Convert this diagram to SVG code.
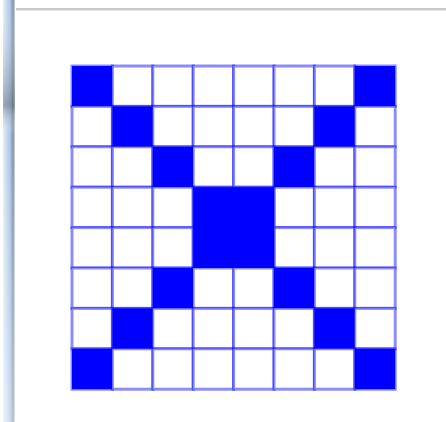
<svg xmlns="http://www.w3.org/2000/svg" width="446" height="422" viewBox="0 0 446 422">
<defs>
<linearGradient id="bar" x1="0" y1="0" x2="1" y2="0">
<stop offset="0" stop-color="#e4eef8"/>
<stop offset="0.6" stop-color="#a9c6e6"/>
<stop offset="0.85" stop-color="#7f8fa3"/>
<stop offset="1" stop-color="#d8dde3"/>
</linearGradient>
<linearGradient id="barv" x1="0" y1="0" x2="0" y2="1">
<stop offset="0" stop-color="#ffffff" stop-opacity="0"/>
<stop offset="0.25" stop-color="#5a6470" stop-opacity="0.5"/>
<stop offset="0.32" stop-color="#ffffff" stop-opacity="0"/>
<stop offset="1" stop-color="#ffffff" stop-opacity="0.4"/>
</linearGradient>
</defs>
<style>
.c{fill:#ffffff;stroke:#0000ff;stroke-opacity:0.45;stroke-width:3}
.f{fill:#0000ff;stroke:#0000ff;stroke-opacity:0.45;stroke-width:3}
</style>
<rect width="446" height="422" fill="#ffffff"/>
<rect x="3" y="0" width="12" height="422" fill="url(#bar)"/>
<rect x="3" y="0" width="12" height="422" fill="url(#barv)"/>
<rect x="16" y="8" width="430" height="2" fill="#c8c8c8"/>
<rect x="16" y="10" width="430" height="1" fill="#e6e6e6"/>
<g id="grid">
<g id="row0">
<rect class="f" x="72" y="66" width="40.4" height="40.4"/>
<rect class="c" x="112.4" y="66" width="40.4" height="40.4"/>
<rect class="c" x="152.8" y="66" width="40.4" height="40.4"/>
<rect class="c" x="193.2" y="66" width="40.4" height="40.4"/>
<rect class="c" x="233.6" y="66" width="40.4" height="40.4"/>
<rect class="c" x="274" y="66" width="40.4" height="40.4"/>
<rect class="c" x="314.4" y="66" width="40.4" height="40.4"/>
<rect class="f" x="354.8" y="66" width="40.4" height="40.4"/>
</g>
<g id="row1">
<rect class="c" x="72" y="106.4" width="40.4" height="40.4"/>
<rect class="f" x="112.4" y="106.4" width="40.4" height="40.4"/>
<rect class="c" x="152.8" y="106.4" width="40.4" height="40.4"/>
<rect class="c" x="193.2" y="106.4" width="40.4" height="40.4"/>
<rect class="c" x="233.6" y="106.4" width="40.4" height="40.4"/>
<rect class="c" x="274" y="106.4" width="40.4" height="40.4"/>
<rect class="f" x="314.4" y="106.4" width="40.4" height="40.4"/>
<rect class="c" x="354.8" y="106.4" width="40.4" height="40.4"/>
</g>
<g id="row2">
<rect class="c" x="72" y="146.8" width="40.4" height="40.4"/>
<rect class="c" x="112.4" y="146.8" width="40.4" height="40.4"/>
<rect class="f" x="152.8" y="146.8" width="40.4" height="40.4"/>
<rect class="c" x="193.2" y="146.8" width="40.4" height="40.4"/>
<rect class="c" x="233.6" y="146.8" width="40.4" height="40.4"/>
<rect class="f" x="274" y="146.8" width="40.4" height="40.4"/>
<rect class="c" x="314.4" y="146.8" width="40.4" height="40.4"/>
<rect class="c" x="354.8" y="146.8" width="40.4" height="40.4"/>
</g>
<g id="row3">
<rect class="c" x="72" y="187.2" width="40.4" height="40.4"/>
<rect class="c" x="112.4" y="187.2" width="40.4" height="40.4"/>
<rect class="c" x="152.8" y="187.2" width="40.4" height="40.4"/>
<rect class="c" x="274" y="187.2" width="40.4" height="40.4"/>
<rect class="c" x="314.4" y="187.2" width="40.4" height="40.4"/>
<rect class="c" x="354.8" y="187.2" width="40.4" height="40.4"/>
</g>
<g id="row4">
<rect class="c" x="72" y="227.6" width="40.4" height="40.4"/>
<rect class="c" x="112.4" y="227.6" width="40.4" height="40.4"/>
<rect class="c" x="152.8" y="227.6" width="40.4" height="40.4"/>
<rect class="c" x="274" y="227.6" width="40.4" height="40.4"/>
<rect class="c" x="314.4" y="227.6" width="40.4" height="40.4"/>
<rect class="c" x="354.8" y="227.6" width="40.4" height="40.4"/>
</g>
<g id="center">
<rect class="f" x="193.2" y="187.2" width="80.8" height="80.8"/>
</g>
<g id="row5">
<rect class="c" x="72" y="268" width="40.4" height="40.4"/>
<rect class="c" x="112.4" y="268" width="40.4" height="40.4"/>
<rect class="f" x="152.8" y="268" width="40.4" height="40.4"/>
<rect class="c" x="193.2" y="268" width="40.4" height="40.4"/>
<rect class="c" x="233.6" y="268" width="40.4" height="40.4"/>
<rect class="f" x="274" y="268" width="40.4" height="40.4"/>
<rect class="c" x="314.4" y="268" width="40.4" height="40.4"/>
<rect class="c" x="354.8" y="268" width="40.4" height="40.4"/>
</g>
<g id="row6">
<rect class="c" x="72" y="308.4" width="40.4" height="40.4"/>
<rect class="f" x="112.4" y="308.4" width="40.4" height="40.4"/>
<rect class="c" x="152.8" y="308.4" width="40.4" height="40.4"/>
<rect class="c" x="193.2" y="308.4" width="40.4" height="40.4"/>
<rect class="c" x="233.6" y="308.4" width="40.4" height="40.4"/>
<rect class="c" x="274" y="308.4" width="40.4" height="40.4"/>
<rect class="f" x="314.4" y="308.4" width="40.4" height="40.4"/>
<rect class="c" x="354.8" y="308.4" width="40.4" height="40.4"/>
</g>
<g id="row7">
<rect class="f" x="72" y="348.8" width="40.4" height="40.4"/>
<rect class="c" x="112.4" y="348.8" width="40.4" height="40.4"/>
<rect class="c" x="152.8" y="348.8" width="40.4" height="40.4"/>
<rect class="c" x="193.2" y="348.8" width="40.4" height="40.4"/>
<rect class="c" x="233.6" y="348.8" width="40.4" height="40.4"/>
<rect class="c" x="274" y="348.8" width="40.4" height="40.4"/>
<rect class="c" x="314.4" y="348.8" width="40.4" height="40.4"/>
<rect class="f" x="354.8" y="348.8" width="40.4" height="40.4"/>
</g>
</g>
<g id="connectors"/>
</svg>
